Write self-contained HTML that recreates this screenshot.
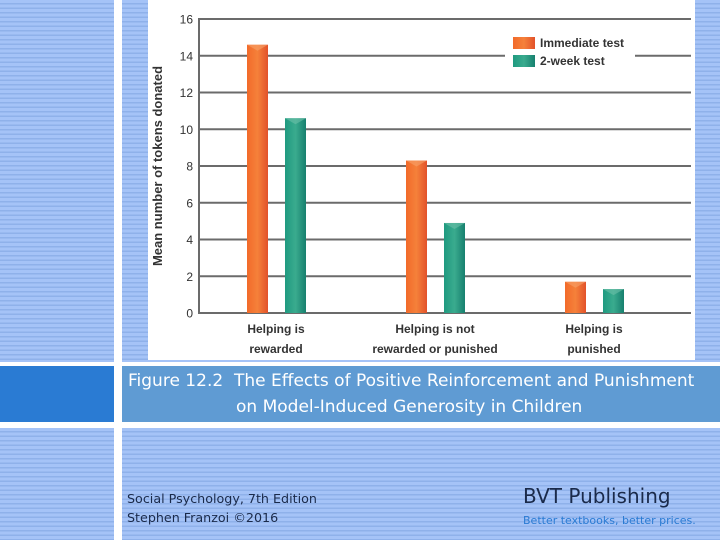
<!DOCTYPE html>
<html><head><meta charset="utf-8"><style>
body{margin:0;width:720px;height:540px;position:relative;overflow:hidden;background:#fff;font-family:"Liberation Sans",sans-serif}
.str{position:absolute;background:repeating-linear-gradient(180deg,#a5c3f7 0,#a5c3f7 3px,#8fb1ea 3px,#8fb1ea 4.5px)}
</style></head><body>
<div class="str" style="left:0;top:0;width:114px;height:362px"></div>
<div class="str" style="left:0;top:428px;width:114px;height:112px"></div>
<div class="str" style="left:122px;top:0;width:598px;height:362px"></div>
<div class="str" style="left:122px;top:428px;width:598px;height:112px"></div>
<div style="position:absolute;left:0;top:366px;width:114px;height:56px;background:#2a7bd3"></div>
<div style="position:absolute;left:122px;top:366px;width:598px;height:56px;background:#5f9bd3;color:#fff;font-family:'DejaVu Sans',sans-serif;font-size:17px;line-height:26px">
<div style="position:absolute;left:6px;top:2px;white-space:nowrap">Figure 12.2&nbsp;&nbsp;The Effects of Positive Reinforcement and Punishment</div>
<div style="position:absolute;left:114px;top:28px;white-space:nowrap">on Model-Induced Generosity in Children</div>
</div>
<div style="position:absolute;left:127px;top:489px;font-family:'DejaVu Sans',sans-serif;font-size:12.7px;line-height:19px;color:#1a2a4a">Social Psychology, 7th Edition<br>Stephen Franzoi ©2016</div>
<div style="position:absolute;left:523px;top:484px;font-family:'DejaVu Sans',sans-serif;font-size:20px;color:#1a2a4a">BVT Publishing</div>
<div style="position:absolute;left:523px;top:514px;font-family:'DejaVu Sans',sans-serif;font-size:11px;color:#2a7bd3">Better textbooks, better prices.</div>
<svg id="chart" style="position:absolute;left:148px;top:0" width="547" height="360" viewBox="148 0 547 360">
<defs>
<linearGradient id="go" x1="0" x2="1"><stop offset="0" stop-color="#f26a2a"/><stop offset="0.5" stop-color="#f5813a"/><stop offset="1" stop-color="#e2522a"/></linearGradient>
<linearGradient id="gt" x1="0" x2="1"><stop offset="0" stop-color="#1f9a80"/><stop offset="0.5" stop-color="#3aab8e"/><stop offset="1" stop-color="#17806f"/></linearGradient>
</defs>
<rect x="148" y="0" width="547" height="360" fill="#fff"/>
</svg>
<script>
const categories=[["Helping is","rewarded"],["Helping is not","rewarded or punished"],["Helping is","punished"]];
const immediate=[14.6,8.3,1.7];
const twoWeek=[10.6,4.9,1.3];
const yTicks=[0,2,4,6,8,10,12,14,16];
const svg=document.getElementById('chart');
const NS='http://www.w3.org/2000/svg';
const y=v=>313-v*18.375;
const gx=i=>247+i*159;
function mk(t,a,txt){const e=document.createElementNS(NS,t);for(const k in a)e.setAttribute(k,a[k]);if(txt!=null)e.textContent=txt;svg.appendChild(e);return e;}
yTicks.forEach(v=>{
 const l=mk('line',{x1:199,x2:691,y1:y(v),y2:y(v),stroke:'#6b6b6b','stroke-width':2});
 
 
 const t=mk('text',{x:193,y:y(v)+4.5,'text-anchor':'end','font-size':12,fill:'#333'},v);
 
 
});
const ax=mk('line',{x1:199,x2:199,y1:y(16)-1,y2:y(0)+1,stroke:'#6b6b6b','stroke-width':2});


const yt=mk('text',{transform:'translate(162,166) rotate(-90)','text-anchor':'middle','font-size':13,'font-weight':'bold',fill:'#333'},'Mean number of tokens donated');


function bar(x,v,fill,cap){
 const b=mk('rect',{x:x,y:y(v),width:21,height:y(0)-y(v),fill:fill});
 
 
 mk('polygon',{points:`${x},${y(v)} ${x+21},${y(v)} ${x+10.5},${y(v)+6}`,fill:cap,opacity:0.6});
}
categories.forEach((c,i)=>{
 bar(gx(i),immediate[i],'url(#go)','#f7a26a');
 bar(gx(i)+38,twoWeek[i],'url(#gt)','#6cc0a8');
 const cx=gx(i)+29;
 c.forEach((s,j)=>{const t=mk('text',{x:cx,y:333+j*20,'text-anchor':'middle','font-size':12,'font-weight':'bold',fill:'#333'},s);
 
 });
});
const lb=mk('rect',{x:505,y:32,width:130,height:40,fill:'#fff'});


[['Immediate test','url(#go)'],['2-week test','url(#gt)']].forEach((d,i)=>{
 const r=mk('rect',{x:513,y:37+i*18,width:22,height:12,fill:d[1]});
 
 
 const t=mk('text',{x:540,y:47+i*18,'font-size':12,'font-weight':'bold',fill:'#333'},d[0]);
 
 
});
</script>
</body></html>
